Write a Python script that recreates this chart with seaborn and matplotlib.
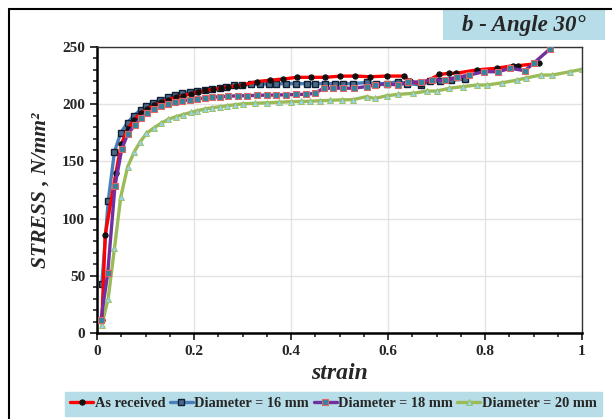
import seaborn as sns
import matplotlib
matplotlib.use('Agg')
import matplotlib.pyplot as plt
from matplotlib.lines import Line2D
from matplotlib.patches import Rectangle
from matplotlib.ticker import MultipleLocator

# Données
strain_recu = [0.010, 0.017, 0.039, 0.050, 0.063, 0.076, 0.090, 0.104, 0.118, 0.132, 0.147,
               0.162, 0.178, 0.193, 0.208, 0.223, 0.240, 0.255, 0.270, 0.287, 0.302, 0.329,
               0.357, 0.384, 0.412, 0.441, 0.470, 0.501, 0.532, 0.563, 0.597, 0.632, 0.645,
               0.669, 0.706, 0.726, 0.740, 0.783, 0.824, 0.858, 0.869, 0.912]
stress_recu = [11, 86, 140, 165, 178, 186, 192, 196, 199, 201.5, 204,
               206, 207.5, 209, 210.5, 212, 213, 214, 215, 216, 217, 219.7,
               221, 222, 223.5, 223.5, 223.5, 224.5, 224.6, 224, 224.6, 224.6, 220,
               217.6, 226, 227, 227, 230, 231.4, 233.7, 233.7, 235.7]

strain_16 = [0.010, 0.023, 0.036, 0.049, 0.063, 0.076, 0.090, 0.102, 0.116, 0.130, 0.146,
             0.161, 0.176, 0.192, 0.207, 0.223, 0.238, 0.254, 0.267, 0.282, 0.298, 0.317,
             0.336, 0.355, 0.370, 0.390, 0.410, 0.432, 0.450, 0.470, 0.490, 0.507, 0.528,
             0.556, 0.575, 0.597, 0.620, 0.640, 0.669, 0.687, 0.707, 0.730, 0.759]
stress_16 = [43, 115, 158.5, 175, 184, 190, 195, 198.4, 201, 203.7, 206,
             208, 209.5, 210.7, 211.8, 212.7, 213.6, 214.5, 215.4, 216.5, 217, 217.3,
             217.7, 217.7, 217.7, 218, 218, 218, 218, 218, 218, 218, 218,
             219, 218, 218, 219.7, 218, 216.8, 220.6, 220, 221, 221.8]

strain_18 = [0.008, 0.022, 0.037, 0.051, 0.063, 0.078, 0.091, 0.104, 0.118, 0.132, 0.147,
             0.161, 0.176, 0.192, 0.207, 0.223, 0.238, 0.254, 0.270, 0.290, 0.310, 0.330,
             0.350, 0.370, 0.390, 0.410, 0.430, 0.449, 0.467, 0.487, 0.507, 0.529, 0.556,
             0.573, 0.597, 0.621, 0.642, 0.667, 0.690, 0.718, 0.742, 0.768, 0.797, 0.827,
             0.852, 0.882, 0.900, 0.933]
stress_18 = [11, 52, 128.5, 160.6, 173.7, 181.8, 188, 192.6, 195.5, 198.4, 200.4,
             202, 203, 204, 204.8, 205.4, 206, 206.6, 207, 207.3, 207.5, 207.7,
             208, 208, 208.3, 208.5, 208.7, 209.5, 213.9, 214, 214, 214, 215.4,
             216.8, 217.7, 216.8, 219, 219.7, 221, 221, 223.5, 225.5, 228.4, 228.4,
             231.4, 229.3, 235.7, 248]

strain_20 = [0.010, 0.023, 0.036, 0.049, 0.063, 0.077, 0.089, 0.102, 0.118, 0.132, 0.147,
             0.162, 0.178, 0.193, 0.207, 0.223, 0.238, 0.254, 0.269, 0.285, 0.302, 0.325,
             0.350, 0.375, 0.400, 0.420, 0.439, 0.460, 0.480, 0.505, 0.528, 0.556, 0.573,
             0.597, 0.621, 0.652, 0.680, 0.700, 0.726, 0.755, 0.783, 0.805, 0.836, 0.865,
             0.885, 0.915, 0.939, 0.975, 1.000]
stress_20 = [7, 30, 74, 119, 145, 158.5, 167, 174.5, 179.5, 183.3, 186.8,
             189, 191, 192.8, 194.3, 195.8, 197, 197.8, 198.7, 199.6, 200.4, 200.8,
             201.2, 201.7, 202.2, 202.4, 202.6, 203, 203.4, 203.8, 204, 206.6, 205,
             207.4, 208.6, 209.5, 211.5, 211.5, 213.9, 215.4, 216.8, 216.8, 218.8, 221,
             223, 225.5, 225.5, 228.4, 230.5]

labels = ['As received', 'Diameter = 16 mm', 'Diameter = 18 mm', 'Diameter = 20 mm']

sns.set_style('white')
plt.rcParams['font.family'] = ['Liberation Serif', 'DejaVu Serif']

fig = plt.figure(figsize=(6.12, 4.19), dpi=100)
ax = fig.add_axes([0.1585, 0.2053, 0.7925, 0.6825])

# Courbes
sns.lineplot(x=strain_20, y=stress_20, sort=False, estimator=None, ax=ax, color='#9bbb59',
             linewidth=2.4, marker='^', markersize=4, markerfacecolor='#92d5e6',
             markeredgecolor='#9bbb59', markeredgewidth=0.6, label=labels[3], zorder=2)
sns.lineplot(x=strain_16, y=stress_16, sort=False, estimator=None, ax=ax, color='#4a7ebb',
             linewidth=2.4, marker='s', markersize=4, markerfacecolor='#4a6a8a',
             markeredgecolor='#0f1f33', markeredgewidth=1.0, label=labels[1], zorder=3)
sns.lineplot(x=strain_recu, y=stress_recu, sort=False, estimator=None, ax=ax, color='#ff0000',
             linewidth=2.4, marker='o', markersize=3.8, markerfacecolor='#111111',
             markeredgecolor='#111111', label=labels[0], zorder=4)
sns.lineplot(x=strain_18, y=stress_18, sort=False, estimator=None, ax=ax, color='#7030a0',
             linewidth=2.4, marker='s', markersize=4.5, markerfacecolor='#31859c',
             markeredgecolor='#e06666', markeredgewidth=0.8, label=labels[2], zorder=5)

ax.set_xlim(0, 1)
ax.set_ylim(0, 250)
ax.xaxis.set_major_locator(MultipleLocator(0.2))
ax.xaxis.set_minor_locator(MultipleLocator(0.05))
ax.yaxis.set_major_locator(MultipleLocator(50))
ax.yaxis.set_minor_locator(MultipleLocator(10))
ax.set_xticks([0, 0.2, 0.4, 0.6, 0.8, 1.0])
ax.set_xticklabels(['0', '0.2', '0.4', '0.6', '0.8', '1'])
ax.grid(True, which='major', color='#e3e3e3', linewidth=1.0)
ax.tick_params(which='major', direction='out', length=5, width=1.3, labelsize=11)
ax.tick_params(which='minor', direction='out', length=3, width=1.2)
ax.tick_params(axis='both', which='both', left=True, bottom=True)
for lab in ax.get_xticklabels() + ax.get_yticklabels():
    lab.set_fontweight('bold')
for s in ['left', 'bottom']:
    ax.spines[s].set_linewidth(1.8)
    ax.spines[s].set_color('black')
for s in ['top', 'right']:
    ax.spines[s].set_linewidth(1.0)
    ax.spines[s].set_color('#333333')

ax.set_xlabel('strain', fontsize=17, fontweight='bold', fontstyle='italic', labelpad=4)
ax.set_ylabel('STRESS , N/mm²', fontsize=15.5, fontweight='bold',
              fontstyle='italic', labelpad=8)

# Légende
handles, labs = ax.get_legend_handles_labels()
order = [labs.index(l) for l in labels]
ax.get_legend().remove()
leg = fig.legend([handles[i] for i in order], labels, loc='center', ncol=4,
                 bbox_to_anchor=(0.545, 0.036), frameon=True, fancybox=False,
                 facecolor='#b7dde8', edgecolor='#b7dde8', framealpha=1,
                 handlelength=1.6, handletextpad=0.1, columnspacing=0.3,
                 borderpad=0.35, prop={'weight': 'bold', 'size': 10.4})

# Titre dans un cadre
fig.add_artist(Rectangle((443 / 612, 1 - 40 / 419), 162 / 612, 30 / 419,
                         transform=fig.transFigure, facecolor='#b7dde8', edgecolor='none'))
fig.text(524 / 612, 1 - 26 / 419, 'b - Angle 30°', fontsize=16.5, fontweight='bold',
         fontstyle='italic', ha='center', va='center')

# Cadre de la figure
fig.add_artist(Line2D([0.0147, 0.0147], [0, 0.9785], color='black', linewidth=1.5))
fig.add_artist(Line2D([0.0147, 1.0], [0.9785, 0.9785], color='black', linewidth=1.5))

fig.savefig('out.png', dpi=100)
